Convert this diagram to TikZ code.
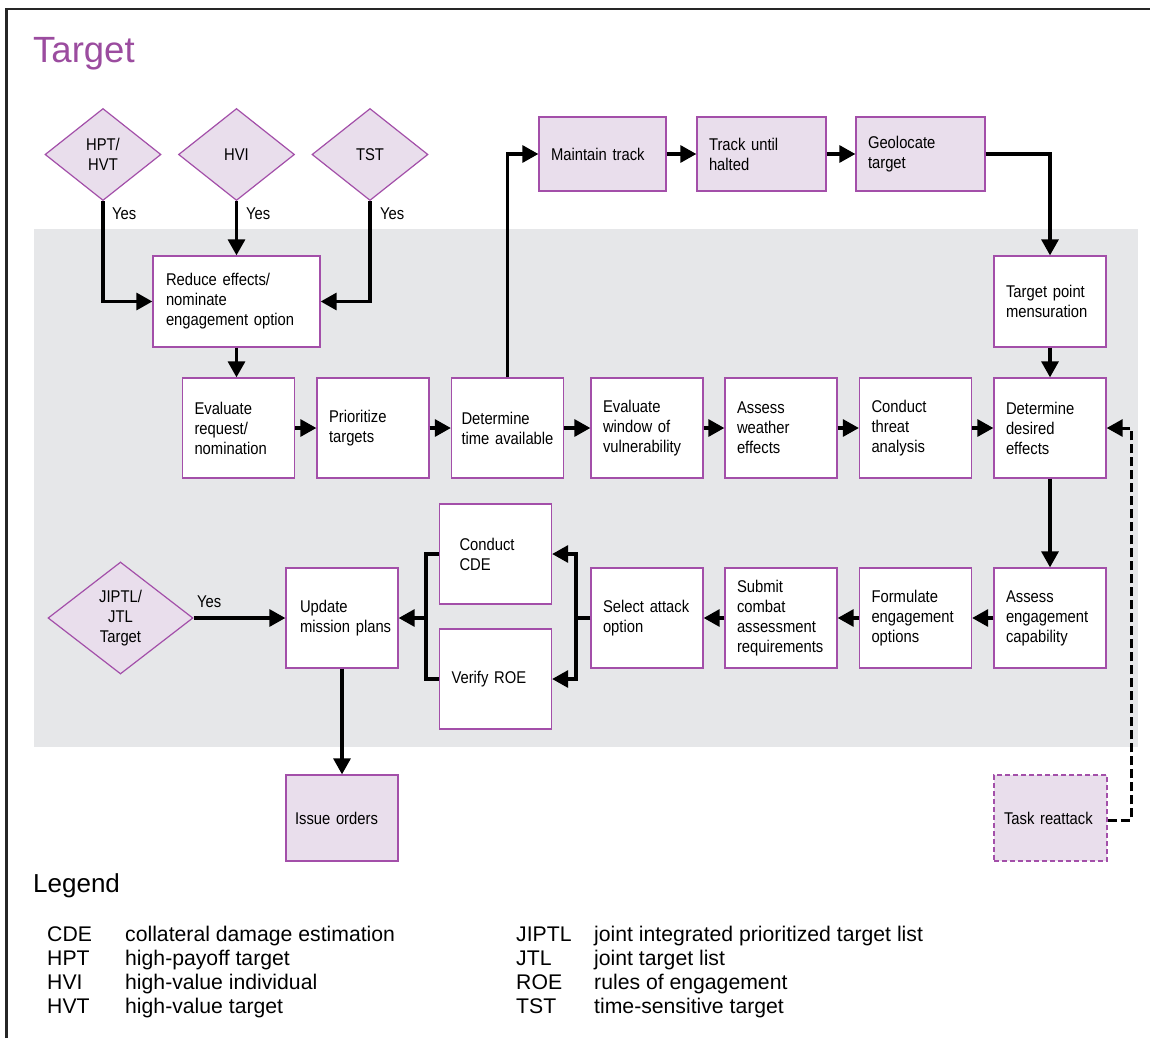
\documentclass[tikz,border=0pt]{standalone}
\usepackage{fontspec}
\setmainfont{Liberation Sans}
\newfontfamily\cond[FakeStretch=0.87]{Liberation Sans}
\usetikzlibrary{arrows.meta,shapes.geometric}
\definecolor{pborder}{HTML}{A34FA9}
\definecolor{pfill}{HTML}{E9DEEC}
\definecolor{bggray}{HTML}{E6E7E9}
\definecolor{ttl}{HTML}{9B4C9F}
\begin{document}
\begin{tikzpicture}[x=1pt,y=-1pt,
  wbox/.style={draw=pborder, line width=1.3pt, fill=white, inner xsep=12pt, inner ysep=0pt,
    minimum width=112pt, text width=88pt, minimum height=100pt, align=left,
    font=\cond\fontsize{17}{20}\selectfont},
  pbox/.style={wbox, fill=pfill},
  dia/.style={diamond, draw=pborder, line width=1.2pt, fill=pfill, inner sep=0pt, align=center,
    font=\cond\fontsize{17}{20}\selectfont},
  lbl/.style={inner sep=0pt, font=\cond\fontsize{17}{20}\selectfont},
  arr/.style={line width=3.2pt, -{Triangle[length=16pt,width=17pt]}},
  plain/.style={line width=3.2pt},
  dasharr/.style={line width=3pt, dash pattern=on 9pt off 4pt, -{Triangle[length=16pt,width=17pt]}},
  leg/.style={inner sep=0pt, anchor=base west, font=\fontsize{21.2}{24}\selectfont}
]
\useasboundingbox (0,0) rectangle (1150,1038);
\fill[white] (0,0) rectangle (1150,1038);
\draw[line width=2.2pt, black!85] (6.5,1038) -- (6.5,9) -- (1150,9);
\fill[bggray] (34,229) rectangle (1138,747);

% title
\node[anchor=base west, inner sep=0pt, text=ttl, font=\fontsize{36.5}{40}\selectfont] (title) at (33,63) {Target};

% diamonds
\node[dia, minimum width=116pt, minimum height=92pt] (hpt) at (103,154.5) {HPT/\\HVT};
\node[dia, minimum width=116pt, minimum height=92pt] (hvi) at (236.5,154.5) {HVI};
\node[dia, minimum width=116pt, minimum height=92pt] (tst) at (370,154.5) {TST};
\node[dia, minimum width=145pt, minimum height=112pt] (jt) at (120.5,618) {JIPTL/\\JTL\\Target};

\node[lbl, anchor=base west] (y1) at (112,219) {Yes};
\node[lbl, anchor=base west] (y2) at (246,219) {Yes};
\node[lbl, anchor=base west] (y3) at (380,219) {Yes};
\node[lbl, anchor=base west] (y4) at (197,607) {Yes};

% boxes
\node[wbox, minimum width=167pt, text width=141pt, inner xsep=13pt, minimum height=91pt] (red) at (236.5,301.5) {Reduce~effects/\\nominate\\engagement~option};
\node[wbox] (er) at (238.5,428) {Evaluate\\request/\\nomination};
\node[wbox] (pt) at (373,428) {Prioritize\\targets};
\node[wbox, inner xsep=10pt, text width=92pt] (dt) at (507.5,428) {Determine\\time~available};
\node[wbox] (ew) at (647,428) {Evaluate\\window~of\\vulnerability};
\node[wbox] (aw) at (781,428) {Assess\\weather\\effects};
\node[wbox] (ct) at (915.5,428) {Conduct\\threat\\analysis};
\node[wbox] (dd) at (1050,428) {Determine\\desired\\effects};

\node[pbox, minimum width=127pt, text width=103pt, minimum height=74pt] (mt) at (602.5,154) {Maintain~track};
\node[pbox, minimum width=129pt, text width=105pt, inner xsep=12pt, minimum height=74pt] (tu) at (761.5,154) {Track~until\\halted};
\node[pbox, minimum width=129pt, text width=105pt, minimum height=74pt] (gl) at (920.5,154) {Geolocate\\target};

\node[wbox, minimum height=91pt] (tp) at (1050,301.5) {Target~point\\mensuration};

\node[wbox] (ae) at (1050,618) {Assess\\engagement\\capability};
\node[wbox] (fo) at (915.5,618) {Formulate\\engagement\\options};
\node[wbox] (sc) at (781,618) {Submit\\combat\\assessment\\requirements};
\node[wbox] (sa) at (647,618) {Select~attack\\option};

\node[wbox, text width=92pt, inner xsep=10pt] (cde) at (495.5,554) {\hspace*{10pt}Conduct\\\hspace*{10pt}CDE};
\node[wbox] (roe) at (495.5,679) {Verify~ROE};
\node[wbox, inner xsep=14pt, text width=84pt] (um) at (342,618) {Update\\mission~plans};
\node[pbox, minimum height=86pt, inner xsep=9pt, text width=94pt] (io) at (342,818) {Issue~orders};
\node[pbox, minimum width=113pt, text width=93pt, inner xsep=10pt, minimum height=86pt,
  dash pattern=on 5pt off 3pt] (tr) at (1050.5,818) {Task~reattack};

% connectors
\draw[arr] (hpt.south) |- (red.west);
\draw[arr] (hvi.south) -- (hvi.south |- red.north);
\draw[arr] (tst.south) |- (red.east);
\draw[arr] (red.south) -- (red.south |- er.north);
\draw[arr] (er.east) -- (pt.west);
\draw[arr] (pt.east) -- (dt.west);
\draw[arr] (dt.east) -- (ew.west);
\draw[arr] (ew.east) -- (aw.west);
\draw[arr] (aw.east) -- (ct.west);
\draw[arr] (ct.east) -- (dd.west);
\draw[arr] (dt.north) |- (mt.west);
\draw[arr] (mt.east) -- (tu.west);
\draw[arr] (tu.east) -- (gl.west);
\draw[arr] (gl.east) -| (tp.north);
\draw[arr] (tp.south) -- (dd.north);
\draw[arr] (dd.south) -- (ae.north);
\draw[arr] (ae.west) -- (fo.east);
\draw[arr] (fo.west) -- (sc.east);
\draw[arr] (sc.west) -- (sa.east);
\coordinate (s1) at (576,618);
\draw[plain] (sa.west) -- (s1);
\draw[arr] (s1) |- (cde.east);
\draw[arr] (s1) |- (roe.east);
\coordinate (m1) at (426,618);
\draw[plain] (cde.west) -| (m1);
\draw[plain] (roe.west) -| (m1);
\draw[arr] (m1) -- (um.east);
\draw[arr] (jt.east) -- (um.west);
\draw[arr] (um.south) -- (io.north);
\coordinate (rt) at (1131,820);
\draw[dasharr] (tr.east |- rt) -- (rt) |- (dd.east);

% legend
\node[anchor=base west, inner sep=0pt, font=\fontsize{26}{30}\selectfont] (legend) at (33,892) {Legend};
\node[leg] (la) at (47,941) {\begin{tabular}[t]{@{}p{78pt}@{}l@{}}CDE & collateral damage estimation\\HPT & high-payoff target\\HVI & high-value individual\\HVT & high-value target\end{tabular}};
\node[leg] (lb) at (516,941) {\begin{tabular}[t]{@{}p{78pt}@{}l@{}}JIPTL & joint integrated prioritized target list\\JTL & joint target list\\ROE & rules of engagement\\TST & time-sensitive target\end{tabular}};
\end{tikzpicture}
\end{document}
